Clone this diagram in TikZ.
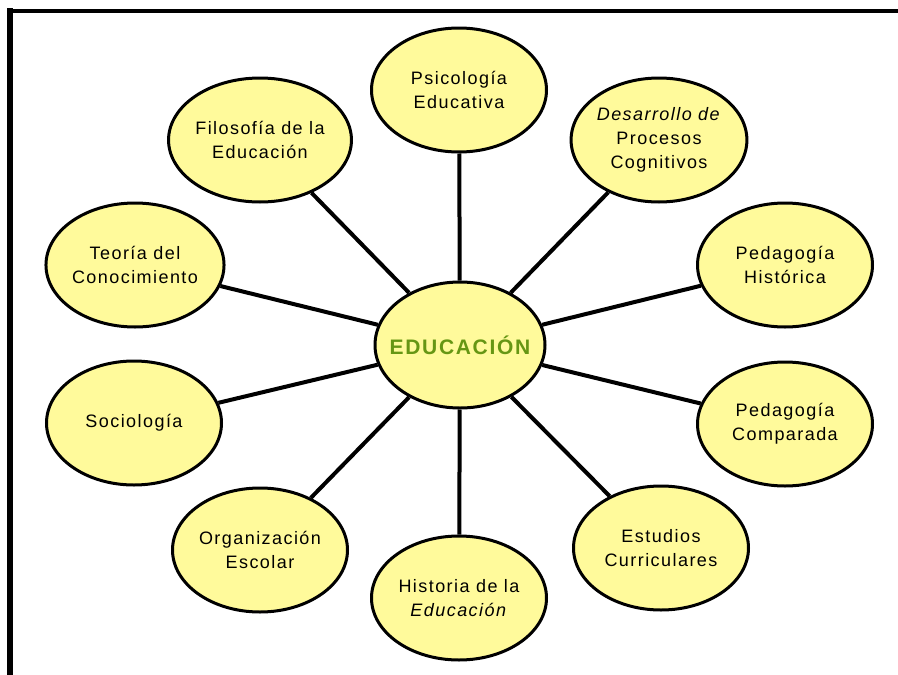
\documentclass[tikz,border=0pt]{standalone}
\usepackage{fontspec}
\setmainfont{Liberation Sans}[LetterSpace=8]
\usetikzlibrary{shapes.geometric}

\definecolor{topicfill}{RGB}{255,250,155}
\definecolor{edugreen}{RGB}{102,150,20}

\begin{document}
\begin{tikzpicture}[x=1pt,y=-1pt,
  topic/.style={ellipse, draw=black, line width=3pt, fill=topicfill,
    minimum width=175pt, minimum height=124pt, inner sep=0pt, align=center,
    font=\fontsize{18}{24}\selectfont},
  hub/.style={topic, minimum width=170pt, minimum height=126pt, inner xsep=-12pt,
    font=\fontsize{21}{24}\selectfont\bfseries, text=edugreen},
  spoke/.style={line width=4pt}]
  \useasboundingbox (0,0) rectangle (898,675);
  % frame, cut off at right and bottom
  \draw[line width=6pt] (10,675) -- (10,8);
  \draw[line width=4pt] (7,10.5) -- (898,10.5);

  \node[hub]   (Edu)     at (460,345) {EDUCACIÓN};
  \node[topic] (Psico)   at (459,90)  {Psicología\\Educativa};
  \node[topic] (Desarr)  at (659,140) {\textit{Desarrollo de}\\Procesos\\Cognitivos};
  \node[topic] (PedHist) at (785,265) {Pedagogía\\Histórica};
  \node[topic] (PedComp) at (785,424) {Pedagogía\\Comparada};
  \node[topic] (Estud)   at (661,548) {Estudios\\Curriculares};
  \node[topic] (Hist)    at (459,598) {Historia de la\\\textit{Educación}};
  \node[topic] (Organ)   at (260,550) {Organización\\Escolar};
  \node[topic] (Socio)   at (134,423) {Sociología};
  \node[topic] (Teoria)  at (135,265) {Teoría del\\Conocimiento};
  \node[topic] (Filo)    at (260,140) {Filosofía de la\\Educación};

  \path[spoke]
    (Edu) edge (Psico)
    (Edu) edge (Desarr)
    (Edu) edge (PedHist)
    (Edu) edge (PedComp)
    (Edu) edge (Estud)
    (Edu) edge (Hist)
    (Edu) edge (Organ)
    (Edu) edge (Socio)
    (Edu) edge (Teoria)
    (Edu) edge (Filo);
\end{tikzpicture}
\end{document}
